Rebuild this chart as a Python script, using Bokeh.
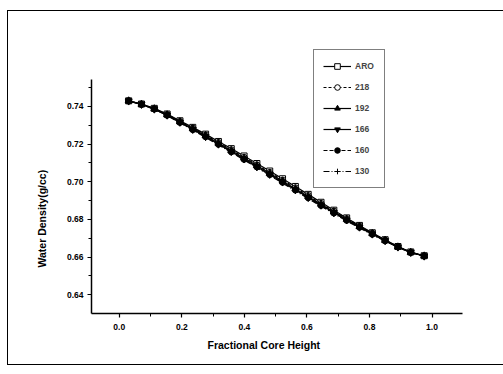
from bokeh.plotting import figure
from bokeh.models import (Range1d, FixedTicker, Legend, LegendItem, Title)
from bokeh.embed import file_html
from bokeh.resources import INLINE

# ---- data ----
height = [0.030, 0.071, 0.112, 0.153, 0.194, 0.235, 0.276, 0.317, 0.358, 0.399,
          0.440, 0.481, 0.522, 0.563, 0.604, 0.645, 0.686, 0.727, 0.768, 0.809,
          0.850, 0.891, 0.932, 0.975]
aro = [0.7430, 0.7413, 0.7390, 0.7360, 0.7324, 0.7289, 0.7253, 0.7214, 0.7176, 0.7137,
       0.7097, 0.7057, 0.7016, 0.6975, 0.6933, 0.6891, 0.6849, 0.6808, 0.6768, 0.6729,
       0.6692, 0.6656, 0.6627, 0.6607]
s218 = [0.7430, 0.7413, 0.7389, 0.7358, 0.7321, 0.7285, 0.7248, 0.7209, 0.7170, 0.7130,
        0.7090, 0.7050, 0.7009, 0.6968, 0.6927, 0.6885, 0.6844, 0.6804, 0.6765, 0.6727,
        0.6690, 0.6655, 0.6626, 0.6606]
s192 = [0.7430, 0.7412, 0.7388, 0.7356, 0.7319, 0.7282, 0.7245, 0.7205, 0.7166, 0.7126,
        0.7086, 0.7045, 0.7004, 0.6963, 0.6922, 0.6881, 0.6840, 0.6801, 0.6762, 0.6725,
        0.6689, 0.6654, 0.6625, 0.6606]
s166 = [0.7429, 0.7411, 0.7386, 0.7354, 0.7316, 0.7278, 0.7240, 0.7200, 0.7161, 0.7121,
        0.7080, 0.7040, 0.6999, 0.6958, 0.6917, 0.6876, 0.6836, 0.6797, 0.6759, 0.6722,
        0.6687, 0.6653, 0.6624, 0.6605]
s160 = [0.7429, 0.7411, 0.7386, 0.7353, 0.7315, 0.7277, 0.7239, 0.7199, 0.7159, 0.7119,
        0.7079, 0.7038, 0.6997, 0.6956, 0.6915, 0.6874, 0.6834, 0.6795, 0.6758, 0.6721,
        0.6686, 0.6653, 0.6624, 0.6605]
s130 = [0.7429, 0.7410, 0.7385, 0.7352, 0.7313, 0.7275, 0.7236, 0.7196, 0.7156, 0.7116,
        0.7075, 0.7034, 0.6993, 0.6952, 0.6911, 0.6870, 0.6830, 0.6792, 0.6755, 0.6719,
        0.6685, 0.6652, 0.6623, 0.6604]
series_names = ["ARO", "218", "192", "166", "160", "130"]
series_values = [aro, s218, s192, s166, s160, s130]
x_ticks = [0.0, 0.2, 0.4, 0.6, 0.8, 1.0]
y_ticks = [0.64, 0.66, 0.68, 0.70, 0.72, 0.74]
x_title = "Fractional Core Height"
y_title = "Water Density(g/cc)"

# ---- styles ----
markers = ["square", "circle", "triangle", "inverted_triangle", "circle", "cross"]
fills = ["white", "white", "black", "black", "black", "black"]
msizes = [6, 6, 7, 7, 6, 6]
dashes = ["solid", "3 2", "solid", "solid", "4 2", "6 2 1 2"]
FONT = "Liberation Sans"

p = figure(width=495, height=353, output_backend="svg", toolbar_location=None,
           x_range=Range1d(-0.0888, 1.123), y_range=Range1d(0.630, 0.7724),
           min_border_left=83, min_border_right=33, min_border_top=34,
           min_border_bottom=51)
p.styles = {"margin": "11px 0px 0px 8px", "outline": "1.5px solid #000",
            "outline-offset": "0px"}
p.outline_line_color = None
p.grid.visible = False
p.background_fill_color = "white"
p.border_fill_color = "white"

xa = p.xaxis[0]
ya = p.yaxis[0]
xa.bounds = (-0.0888, 1.096)
ya.bounds = (0.630, 0.7545)
xa.ticker = FixedTicker(ticks=x_ticks, minor_ticks=[0.1, 0.3, 0.5, 0.7, 0.9])
ya.ticker = FixedTicker(ticks=y_ticks, minor_ticks=[0.65, 0.67, 0.69, 0.71, 0.73, 0.75])
xa.major_label_overrides = {t: f"{t:.1f}" for t in x_ticks}
ya.major_label_overrides = {t: f"{t:.2f}" for t in y_ticks}
for ax in (xa, ya):
    ax.axis_line_width = 1.5
    ax.axis_line_color = "black"
    ax.major_tick_out = 4
    ax.major_tick_in = 0
    ax.minor_tick_out = 3
    ax.minor_tick_in = 0
    ax.major_tick_line_width = 1.2
    ax.major_label_text_font = FONT
    ax.major_label_text_font_style = "bold"
    ax.major_label_text_font_size = "8.5px"
    ax.major_label_text_color = "black"
xa.major_label_standoff = 6
ya.major_label_standoff = 4

items = []
for name, vals, m, f, ms, d in zip(series_names, series_values, markers, fills, msizes, dashes):
    ln = p.line(height, vals, line_color="black", line_width=1.2, line_dash=d)
    sc = p.scatter(height, vals, marker=m, size=ms, line_color="black",
                   fill_color=f, line_width=1)
    items.append(LegendItem(label=name, renderers=[ln, sc]))

leg = Legend(items=items, location=(222, 125), orientation="vertical",
             glyph_width=28, glyph_height=14, label_height=14, spacing=7,
             padding=9, margin=0, label_standoff=4,
             label_text_font=FONT, label_text_font_style="bold",
             label_text_font_size="8.5px", border_line_color="black",
             border_line_width=1.5, background_fill_color="white",
             background_fill_alpha=1.0)
p.add_layout(leg, "center")

p.add_layout(Title(text=x_title, align="left", offset=116, standoff=9,
                   text_font=FONT, text_font_style="bold",
                   text_font_size="10.5px", text_color="black"), "below")
p.add_layout(Title(text=y_title, align="left", offset=46, standoff=32,
                   text_font=FONT, text_font_style="bold",
                   text_font_size="10.5px", text_color="black"), "left")

open("out.html", "w").write(file_html(p, INLINE))
